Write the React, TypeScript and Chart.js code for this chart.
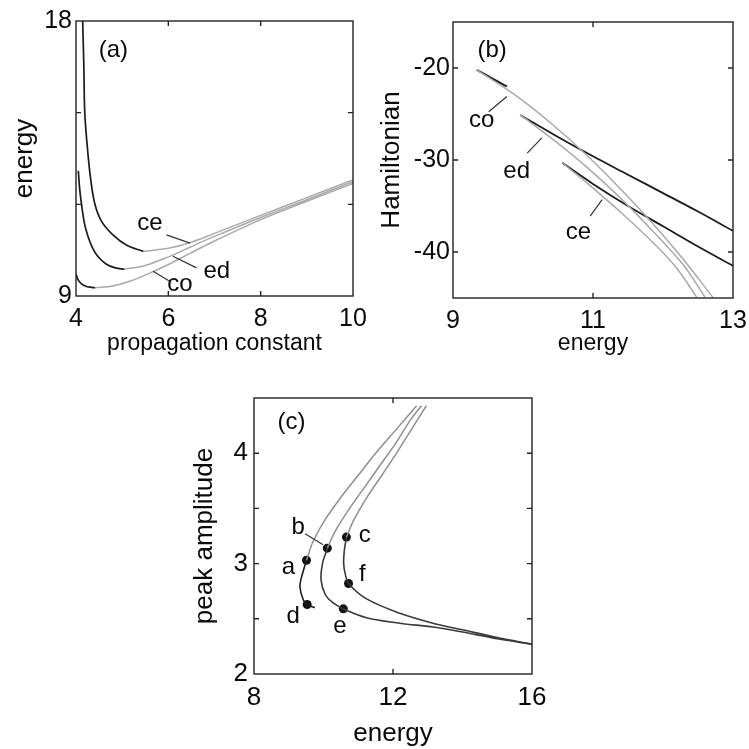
import React, { useEffect, useRef } from "react";
import { Chart, registerables } from "chart.js";

Chart.register(...registerables);

const FONT = '"Liberation Sans", Arial, Helvetica, sans-serif';
const DARK = "#1c1c1c";
const LIGHT = "#a9a9a9";
const MID = "#8f8f8f";
const TEXT = "#0a0a0a";

// ---------- Panel (a): energy vs propagation constant ----------
const aXTicks = [4, 6, 8, 10];
const aXLabels = [4, 6, 8, 10];
const aYTicks = [9, 12, 15, 18];
const aYLabels = [9, 18];

const aCeDarkX = [4.145, 4.17, 4.19, 4.25, 4.32, 4.41, 4.55, 4.8, 5.1, 5.46];
const aCeDarkY = [18, 16.5, 15.0, 13.8, 12.8, 12.0, 11.45, 11.0, 10.66, 10.46];
const aCeLightX = [5.46, 6.0, 6.5, 7.0, 8.0, 9.0, 10.0];
const aCeLightY = [10.46, 10.56, 10.76, 11.05, 11.64, 12.22, 12.8];

const aEdDarkX = [4.05, 4.08, 4.12, 4.18, 4.25, 4.35, 4.47, 4.65, 4.85, 5.05];
const aEdDarkY = [13.1, 12.5, 12.0, 11.4, 11.0, 10.6, 10.3, 10.05, 9.92, 9.88];
const aEdLightX = [5.05, 5.5, 6.0, 6.5, 7.0, 8.0, 9.0, 10.0];
const aEdLightY = [9.88, 10.0, 10.28, 10.62, 10.95, 11.57, 12.15, 12.74];

const aCoDarkX = [4.0, 4.05, 4.12, 4.2, 4.3, 4.42];
const aCoDarkY = [9.72, 9.52, 9.4, 9.33, 9.29, 9.27];
const aCoLightX = [4.42, 4.8, 5.2, 5.6, 6.0, 6.5, 7.0, 8.0, 9.0, 10.0];
const aCoLightY = [9.27, 9.33, 9.5, 9.75, 10.03, 10.42, 10.8, 11.5, 12.1, 12.68];

const aLabels = ["(a)", "ce", "ed", "co"];
const aLabelX = [4.81, 5.6, 7.05, 6.25];
const aLabelY = [17.05, 11.39, 9.8, 9.37];
const aPointers = [
  [5.96, 11.0, 6.47, 10.73],
  [6.1, 10.3, 6.61, 9.92],
  [5.67, 9.81, 6.03, 9.48],
];

// ---------- Panel (b): Hamiltonian vs energy ----------
const bXTicks = [9, 11, 13];
const bXLabels = [9, 11, 13];
const bYTicks = [-40, -30, -20];
const bYLabels = [-40, -30, -20];

const bCoDarkX = [9.34, 9.55, 9.77];
const bCoDarkY = [-20.2, -21.1, -22.0];
const bCoLightX = [9.34, 9.9, 10.4, 10.9, 11.4, 11.9, 12.3, 12.72];
const bCoLightY = [-20.2, -23.0, -26.0, -29.4, -33.2, -37.3, -40.9, -45.0];

const bEdDarkX = [9.96, 10.5, 11.0, 11.5, 12.0, 12.5, 13.0];
const bEdDarkY = [-25.1, -27.5, -29.6, -31.6, -33.6, -35.6, -37.7];
const bEdLightX = [9.96, 10.4, 10.9, 11.4, 11.9, 12.3, 12.6];
const bEdLightY = [-25.1, -27.6, -30.7, -34.2, -38.1, -41.5, -44.9];

const bCeDarkX = [10.56, 11.0, 11.5, 12.0, 12.5, 13.0];
const bCeDarkY = [-30.3, -32.6, -35.0, -37.2, -39.4, -41.5];
const bCeLightX = [10.56, 10.9, 11.4, 11.9, 12.2, 12.48];
const bCeLightY = [-30.3, -32.4, -35.7, -39.3, -41.8, -44.9];

const bLabels = ["(b)", "co", "ed", "ce"];
const bLabelX = [9.56, 9.41, 9.91, 10.79];
const bLabelY = [-18.1, -25.7, -31.25, -37.9];
const bPointers = [
  [9.51, -24.75, 9.77, -23.1],
  [10.06, -29.26, 10.27, -27.6],
  [10.96, -36.1, 11.13, -34.3],
];

// ---------- Panel (c): peak amplitude vs energy ----------
const cXTicks = [8, 12, 16];
const cXLabels = [8, 12, 16];
const cYTicks = [2, 2.5, 3, 3.5, 4, 4.5];
const cYLabels = [2, 3, 4];

const c1UpX = [12.68, 12.05, 11.5, 11.0, 10.5, 10.05, 9.7, 9.51];
const c1UpY = [4.43, 4.2, 4.0, 3.8, 3.6, 3.4, 3.2, 3.03];
const c1LowX = [9.51, 9.37, 9.32, 9.42, 9.53, 9.75];
const c1LowY = [3.03, 2.88, 2.79, 2.67, 2.63, 2.6];

const c2UpX = [12.82, 12.5, 12.1, 11.65, 11.2, 10.75, 10.35, 10.11];
const c2UpY = [4.43, 4.3, 4.1, 3.9, 3.7, 3.5, 3.3, 3.14];
const c2LowX = [10.11, 9.97, 9.93, 10.05, 10.25, 10.57, 11.24, 12.2, 13.15, 14.0, 15.0, 16.0];
const c2LowY = [3.14, 3.0, 2.85, 2.72, 2.65, 2.59, 2.51, 2.46, 2.425, 2.38, 2.32, 2.27];

const c3UpX = [12.96, 12.5, 12.1, 11.68, 11.25, 10.88, 10.66];
const c3UpY = [4.43, 4.2, 4.0, 3.8, 3.6, 3.4, 3.24];
const c3LowX = [10.66, 10.6, 10.58, 10.63, 10.72, 11.24, 12.2, 13.15, 14.0, 15.0, 16.0];
const c3LowY = [3.24, 3.12, 3.0, 2.9, 2.82, 2.68, 2.55, 2.46, 2.4, 2.33, 2.27];

const cDotX = [9.51, 10.11, 10.66, 9.53, 10.57, 10.72];
const cDotY = [3.03, 3.14, 3.24, 2.63, 2.59, 2.82];

const cLabels = ["(c)", "a", "b", "c", "d", "e", "f"];
const cLabelX = [9.08, 8.99, 9.27, 11.19, 9.13, 10.47, 11.12];
const cLabelY = [4.28, 2.97, 3.33, 3.26, 2.52, 2.43, 2.9];
const cPointers = [[9.47, 3.27, 9.99, 3.17]];

// ---------- helpers ----------
const pts = (xs: number[], ys: number[]) => xs.map((x, i) => ({ x, y: ys[i] }));

const lineDs = (xs: number[], ys: number[], color: string, width = 1.6, tension = 0.35) => ({
  data: pts(xs, ys),
  showLine: true,
  borderColor: color,
  backgroundColor: color,
  borderWidth: width,
  pointRadius: 0,
  pointHoverRadius: 0,
  tension,
  fill: false,
});

const framePlugin = {
  id: "frame",
  afterDraw(chart: any, _args: any, opts: any) {
    const { ctx, chartArea, scales } = chart;
    const { left, right, top, bottom } = chartArea;
    const sx = scales.x;
    const sy = scales.y;
    ctx.save();
    ctx.strokeStyle = "#222";
    ctx.lineWidth = 1.4;
    ctx.strokeRect(left, top, right - left, bottom - top);
    const tl = 5;
    ctx.beginPath();
    for (const v of opts.xTicks) {
      const p = sx.getPixelForValue(v);
      if (Math.abs(p - left) < 1 || Math.abs(p - right) < 1) continue;
      ctx.moveTo(p, bottom);
      ctx.lineTo(p, bottom - tl);
      ctx.moveTo(p, top);
      ctx.lineTo(p, top + tl);
    }
    for (const v of opts.yTicks) {
      const p = sy.getPixelForValue(v);
      if (Math.abs(p - top) < 1 || Math.abs(p - bottom) < 1) continue;
      ctx.moveTo(left, p);
      ctx.lineTo(left + tl, p);
      ctx.moveTo(right, p);
      ctx.lineTo(right - tl, p);
    }
    ctx.stroke();

    // pointer lines
    ctx.strokeStyle = "#333";
    ctx.lineWidth = 1.2;
    ctx.beginPath();
    for (const [x1, y1, x2, y2] of opts.pointers) {
      ctx.moveTo(sx.getPixelForValue(x1), sy.getPixelForValue(y1));
      ctx.lineTo(sx.getPixelForValue(x2), sy.getPixelForValue(y2));
    }
    ctx.stroke();

    // labels
    ctx.fillStyle = TEXT;
    ctx.textAlign = "center";
    ctx.textBaseline = "middle";
    ctx.font = `${opts.fontSize}px ${FONT}`;
    opts.labels.forEach((t: string, i: number) => {
      ctx.fillText(t, sx.getPixelForValue(opts.labelX[i]), sy.getPixelForValue(opts.labelY[i]));
    });
    ctx.restore();
  },
};

type PanelSpec = {
  datasets: any[];
  xMin: number; xMax: number; yMin: number; yMax: number;
  xTicks: number[]; xLabels: number[]; yTicks: number[]; yLabels: number[];
  xTitle: string; yTitle: string;
  padTop: number; padRight: number; yWidth: number; xHeight: number;
  tickSize: number; xTickPad: number; yTickPad: number;
  xTitleSize: number; xTitlePad: number; yTitleSize: number; yTitlePad: number;
  labels: string[]; labelX: number[]; labelY: number[]; pointers: number[][]; labelSize: number;
};

function makeConfig(p: PanelSpec): any {
  return {
    type: "scatter",
    data: { datasets: p.datasets },
    plugins: [framePlugin],
    options: {
      animation: false,
      responsive: false,
      devicePixelRatio: 1,
      events: [],
      layout: { padding: { top: p.padTop, right: p.padRight, left: 0, bottom: 0 } },
      plugins: {
        legend: { display: false },
        tooltip: { enabled: false },
        frame: {
          xTicks: p.xTicks, yTicks: p.yTicks,
          labels: p.labels, labelX: p.labelX, labelY: p.labelY,
          pointers: p.pointers, fontSize: p.labelSize,
        },
      },
      scales: {
        x: {
          type: "linear",
          position: "bottom",
          min: p.xMin,
          max: p.xMax,
          grid: { display: false, drawTicks: false },
          border: { display: false },
          afterBuildTicks: (s: any) => { s.ticks = p.xTicks.map((v) => ({ value: v })); },
          afterFit: (s: any) => {
            s.height = p.xHeight;
            s.paddingLeft = 0; s.paddingRight = 0; s.paddingTop = 0; s.paddingBottom = 0;
          },
          ticks: {
            autoSkip: false, maxRotation: 0, padding: p.xTickPad, color: TEXT,
            font: { family: FONT, size: p.tickSize },
            callback: (v: any) => (p.xLabels.includes(Number(v)) ? String(v) : ""),
          },
          title: {
            display: true, text: p.xTitle, color: TEXT,
            font: { family: FONT, size: p.xTitleSize },
            padding: { top: 0, bottom: p.xTitlePad },
          },
        },
        y: {
          type: "linear",
          position: "left",
          min: p.yMin,
          max: p.yMax,
          grid: { display: false, drawTicks: false },
          border: { display: false },
          afterBuildTicks: (s: any) => { s.ticks = p.yTicks.map((v) => ({ value: v })); },
          afterFit: (s: any) => {
            s.width = p.yWidth;
            s.paddingLeft = 0; s.paddingRight = 0; s.paddingTop = 0; s.paddingBottom = 0;
          },
          ticks: {
            autoSkip: false, padding: p.yTickPad, color: TEXT,
            font: { family: FONT, size: p.tickSize },
            callback: (v: any) => (p.yLabels.includes(Number(v)) ? String(v) : ""),
          },
          title: {
            display: true, text: p.yTitle, color: TEXT,
            font: { family: FONT, size: p.yTitleSize },
            padding: { top: p.yTitlePad, bottom: 0 },
          },
        },
      },
    },
  };
}

const panelA: PanelSpec = {
  datasets: [
    lineDs(aCeLightX, aCeLightY, LIGHT, 1.5),
    lineDs(aEdLightX, aEdLightY, LIGHT, 1.5),
    lineDs(aCoLightX, aCoLightY, LIGHT, 1.5),
    lineDs(aCeDarkX, aCeDarkY, DARK, 1.7),
    lineDs(aEdDarkX, aEdDarkY, DARK, 1.7),
    lineDs(aCoDarkX, aCoDarkY, DARK, 1.7),
  ],
  xMin: 4, xMax: 10, yMin: 9, yMax: 18,
  xTicks: aXTicks, xLabels: aXLabels, yTicks: aYTicks, yLabels: aYLabels,
  xTitle: "propagation constant", yTitle: "energy",
  padTop: 21, padRight: 17, yWidth: 76, xHeight: 64,
  tickSize: 25, xTickPad: 8, yTickPad: 4,
  xTitleSize: 23, xTitlePad: 3, yTitleSize: 26, yTitlePad: 9,
  labels: aLabels, labelX: aLabelX, labelY: aLabelY, pointers: aPointers, labelSize: 24,
};

const panelB: PanelSpec = {
  datasets: [
    lineDs(bCoLightX, bCoLightY, LIGHT, 1.5, 0.3),
    lineDs(bEdLightX, bEdLightY, LIGHT, 1.5, 0.3),
    lineDs(bCeLightX, bCeLightY, LIGHT, 1.5, 0.3),
    lineDs(bCoDarkX, bCoDarkY, DARK, 2),
    lineDs(bEdDarkX, bEdDarkY, DARK, 1.8),
    lineDs(bCeDarkX, bCeDarkY, DARK, 1.8),
  ],
  xMin: 9, xMax: 13, yMin: -45, yMax: -15,
  xTicks: bXTicks, xLabels: bXLabels, yTicks: bYTicks, yLabels: bYLabels,
  xTitle: "energy", yTitle: "Hamiltonian",
  padTop: 22, padRight: 16, yWidth: 83, xHeight: 62,
  tickSize: 25, xTickPad: 8, yTickPad: 3,
  xTitleSize: 23, xTitlePad: 3, yTitleSize: 26, yTitlePad: 6,
  labels: bLabels, labelX: bLabelX, labelY: bLabelY, pointers: bPointers, labelSize: 24,
};

const panelC: PanelSpec = {
  datasets: [
    lineDs(c1UpX, c1UpY, MID, 1.5),
    lineDs(c2UpX, c2UpY, MID, 1.5),
    lineDs(c3UpX, c3UpY, MID, 1.5),
    lineDs(c1LowX, c1LowY, DARK, 1.6),
    lineDs(c2LowX, c2LowY, "#3a3a3a", 1.6),
    lineDs(c3LowX, c3LowY, "#3a3a3a", 1.6),
    {
      data: pts(cDotX, cDotY),
      showLine: false,
      pointRadius: 4.5,
      pointHoverRadius: 4.5,
      pointBackgroundColor: "#111",
      pointBorderColor: "#111",
      borderWidth: 0,
    },
  ],
  xMin: 8, xMax: 16, yMin: 2, yMax: 4.5,
  xTicks: cXTicks, xLabels: cXLabels, yTicks: cYTicks, yLabels: cYLabels,
  xTitle: "energy", yTitle: "peak amplitude",
  padTop: 23, padRight: 28, yWidth: 74, xHeight: 75,
  tickSize: 26, xTickPad: 8, yTickPad: 6,
  xTitleSize: 26, xTitlePad: 0, yTitleSize: 26, yTitlePad: 9,
  labels: cLabels, labelX: cLabelX, labelY: cLabelY, pointers: cPointers, labelSize: 24,
};

function Panel({ spec, left, top, width, height }: { spec: PanelSpec; left: number; top: number; width: number; height: number }) {
  const ref = useRef<HTMLCanvasElement | null>(null);
  useEffect(() => {
    if (!ref.current) return;
    const chart = new Chart(ref.current, makeConfig(spec));
    return () => chart.destroy();
  }, [spec]);
  return (
    <canvas
      ref={ref}
      width={width}
      height={height}
      style={{ position: "absolute", left, top, width, height, display: "block" }}
    />
  );
}

export default function App() {
  return (
    <div style={{ position: "fixed", left: 0, top: 0, width: 749, height: 749, background: "#fff", overflow: "hidden" }}>
      <Panel spec={panelA} left={0} top={0} width={370} height={360} />
      <Panel spec={panelB} left={370} top={0} width={379} height={360} />
      <Panel spec={panelC} left={180} top={375} width={380} height={374} />
    </div>
  );
}
